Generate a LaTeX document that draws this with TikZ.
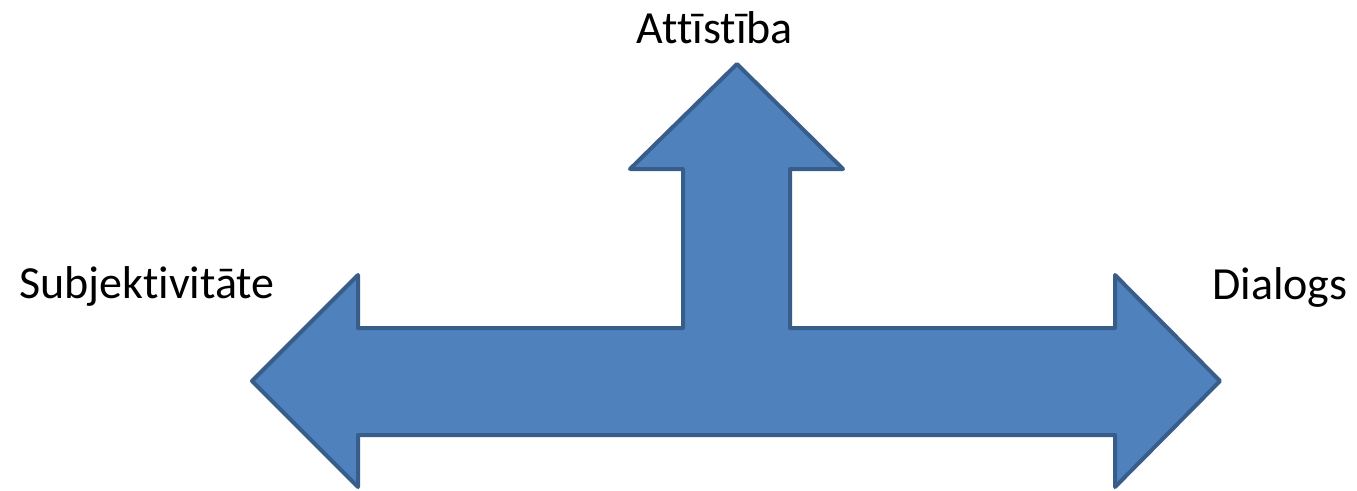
\documentclass[tikz,border=0pt]{standalone}
\usepackage{fontspec}
\setmainfont{Carlito}[Ligatures={NoCommon,NoContextual},Contextuals=NoAlternate]
\usepackage{tikz}

\definecolor{arrowfill}{HTML}{4F81BD}
\definecolor{arrowline}{HTML}{385D8A}

\begin{document}
\begin{tikzpicture}
	[x=1pt,y=-1pt,
		tarrow/.style={fill=arrowfill,draw=arrowline,line width=4pt,line join=round},
		axis label/.style={anchor=base,inner sep=0pt,font=\fontsize{46}{50}\selectfont}]

	\useasboundingbox (0,0) rectangle (1357,490);

	% three way arrow
	\draw[tarrow]
	(252,381) -- (358,275) -- (358,328) -- (683,328) -- (683,169) -- (630,169)
	-- (737,64) -- (843,169) -- (790,169) -- (790,328) -- (1115,328)
	-- (1115,275) -- (1220,381) -- (1115,487) -- (1115,435) -- (358,435)
	-- (358,487) -- cycle;

	\node[axis label] (up)    at (715,43)  {Attīstība};
	\node[axis label] (left)  at (147,298) {Subjektivitāte};
	\node[axis label] (right) at (1280,299) {Dialogs};
	% \node[axis label] (down) at (737,480) {};

\end{tikzpicture}
\end{document}
